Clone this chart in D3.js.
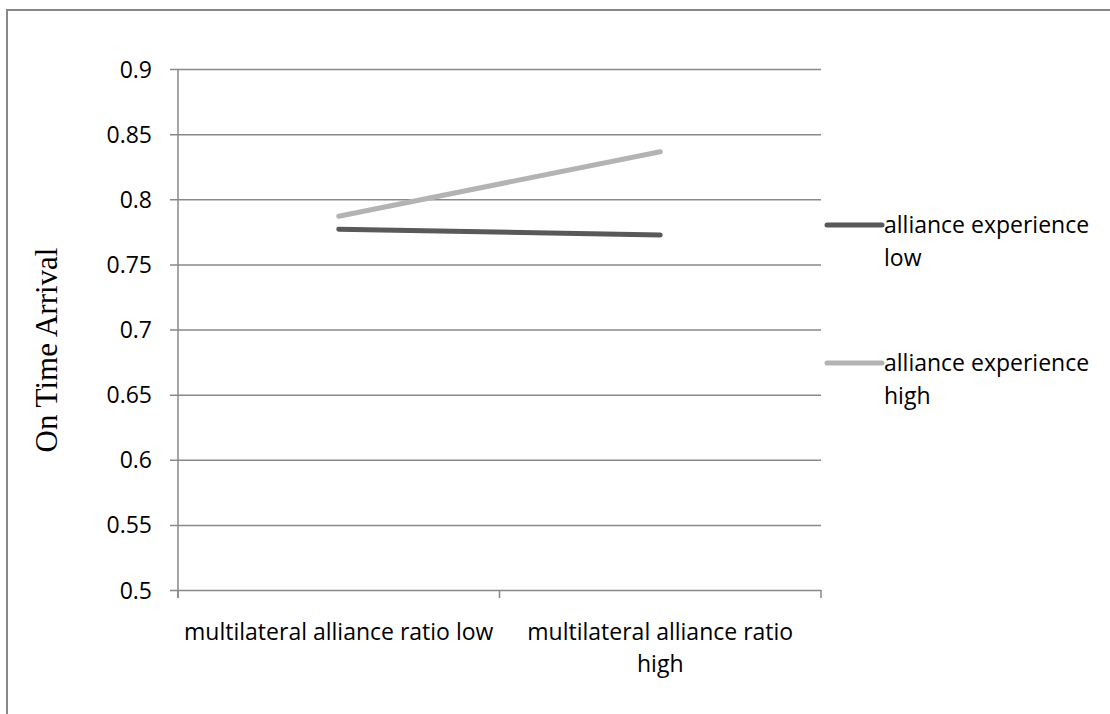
<!DOCTYPE html>
<html>
<head>
<meta charset="utf-8">
<script src="https://cdn.jsdelivr.net/npm/d3@7"></script>
<style>
  html, body { margin: 0; padding: 0; background: #fff; }
  svg { display: block; }
</style>
</head>
<body>
<svg id="chart" width="1110" height="714"></svg>
<script>
// ---- data ----
const categories = ["multilateral alliance ratio low", "multilateral alliance ratio high"];
const categoryLines = [["multilateral alliance ratio low"], ["multilateral alliance ratio", "high"]];
const seriesNames = ["alliance experience low", "alliance experience high"];
const seriesLegendLines = [["alliance experience", "low"], ["alliance experience", "high"]];
const lowExperience = [0.777, 0.7725];
const highExperience = [0.787, 0.8365];
const yTicks = [0.5, 0.55, 0.6, 0.65, 0.7, 0.75, 0.8, 0.85, 0.9];
const yTitle = "On Time Arrival";
const seriesColors = ["#595959", "#b3b3b3"];

const series = [lowExperience, highExperience];

// ---- layout ----
const svg = d3.select("#chart");
const plot = { left: 178, right: 821, top: 69, bottom: 590 };
const sans = "'Open Sans', 'Noto Sans', sans-serif";
const gridColor = "#898989";

// chart border (extends past the window on right/bottom)
svg.append("rect")
  .attr("x", 7).attr("y", 10).attr("width", 1200).attr("height", 800)
  .attr("fill", "#fff").attr("stroke", "#888").attr("stroke-width", 2);

const x = d3.scaleBand().domain(categories).range([plot.left, plot.right]).padding(0);
const y = d3.scaleLinear().domain([0.5, 0.9]).range([plot.bottom, plot.top]);

// gridlines + y axis
const yAxis = d3.axisLeft(y).tickValues(yTicks)
  .tickSize(-(plot.right - plot.left)).tickSizeOuter(0)
  .tickFormat(d => String(+d.toFixed(2)));
const gy = svg.append("g").attr("transform", `translate(${plot.left},0)`).call(yAxis);
gy.select(".domain").remove();
gy.selectAll(".tick line")
  .attr("x1", -8)
  .attr("stroke", gridColor).attr("stroke-width", 1.5);
gy.selectAll(".tick text")
  .attr("x", -26).attr("dy", "0.35em")
  .attr("font-family", sans).attr("font-size", 23).attr("fill", "#000");

// vertical axis line
svg.append("line")
  .attr("x1", plot.left).attr("x2", plot.left)
  .attr("y1", y(0.9)).attr("y2", y(0.5) + 8)
  .attr("stroke", gridColor).attr("stroke-width", 1.5);

// x axis ticks at band boundaries
const boundaries = [plot.left].concat(categories.map(c => x(c) + x.bandwidth()));
svg.append("g").selectAll("line").data(boundaries).join("line")
  .attr("x1", d => d).attr("x2", d => d)
  .attr("y1", y(0.5)).attr("y2", y(0.5) + 8)
  .attr("stroke", gridColor).attr("stroke-width", 1.5);

// x category labels
const xl = svg.append("g").selectAll("text").data(categories).join("text")
  .attr("x", d => x(d) + x.bandwidth() / 2)
  .attr("y", y(0.5) + 50)
  .attr("text-anchor", "middle")
  .attr("font-family", sans).attr("font-size", 23).attr("fill", "#000");
xl.each(function(d, i) {
  const t = d3.select(this);
  categoryLines[i].forEach((ln, j) => {
    t.append("tspan").attr("x", x(d) + x.bandwidth() / 2).attr("dy", j === 0 ? 0 : 32).text(ln);
  });
});

// lines
const line = d3.line()
  .x((d, i) => x(categories[i]) + x.bandwidth() / 2)
  .y(d => y(d));
svg.append("g").selectAll("path").data(series).join("path")
  .attr("d", d => line(d))
  .attr("fill", "none")
  .attr("stroke", (d, i) => seriesColors[i])
  .attr("stroke-width", 5)
  .attr("stroke-linecap", "round");

// legend
const legend = svg.append("g").selectAll("g").data(seriesNames).join("g")
  .attr("transform", (d, i) => `translate(827, ${225 + i * 138})`);
legend.append("line")
  .attr("x1", 0).attr("x2", 55).attr("y1", 0).attr("y2", 0)
  .attr("stroke", (d, i) => seriesColors[i]).attr("stroke-width", 5)
  .attr("stroke-linecap", "round");
legend.append("text")
  .attr("x", 57).attr("y", 8)
  .attr("font-family", sans).attr("font-size", 23).attr("fill", "#000")
  .each(function(d, i) {
    const t = d3.select(this);
    seriesLegendLines[i].forEach((ln, j) => {
      t.append("tspan").attr("x", 57).attr("dy", j === 0 ? 0 : 33).text(ln);
    });
  });

// y title
svg.append("text")
  .attr("transform", "translate(57, 350) rotate(-90)")
  .attr("text-anchor", "middle")
  .attr("font-family", "'Liberation Serif', 'Times New Roman', serif")
  .attr("font-size", 31).attr("fill", "#000")
  .text(yTitle);
</script>
</body>
</html>
